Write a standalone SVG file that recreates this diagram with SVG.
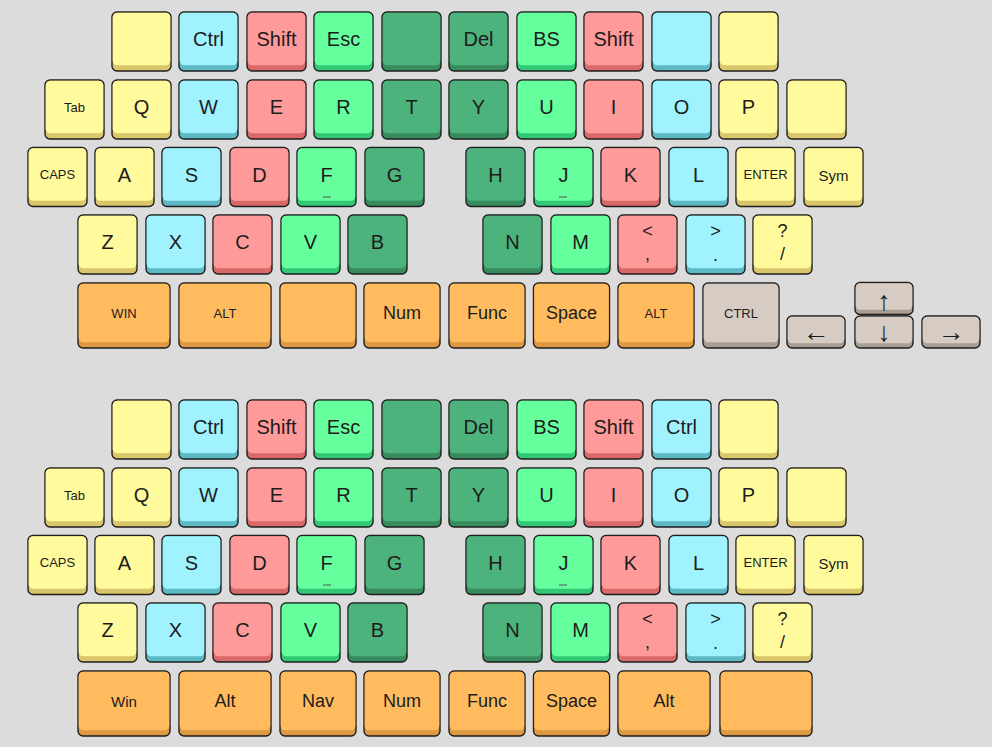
<svg xmlns="http://www.w3.org/2000/svg" width="992" height="747" viewBox="0 0 992 747">
<style>
text{font-family:"Liberation Sans","DejaVu Sans",Arial,sans-serif;fill:#1c1c1c;text-anchor:middle}
.t{font-size:20px}
.s{font-size:13px}
.m{font-size:18px}
.sy{font-size:15px}
.ar{font-size:27px}
.ye{--b:#D9C56A;--f:#FFFA9C}
.cy{--b:#5DB9C3;--f:#A0F2FF}
.rd{--b:#D96868;--f:#FF9A9A}
.lg{--b:#33C876;--f:#66FF9E}
.dg{--b:#378B5C;--f:#4DB37C}
.or{--b:#DC9842;--f:#FFBB5E}
.gr{--b:#A89D93;--f:#D6CCC3}
.hm{stroke:#555;stroke-width:1}
</style>
<rect width="992" height="747" fill="#DCDCDC"/>
<defs>
<g id="k"><rect style="fill:var(--b);stroke:#1e1e1e;stroke-width:1.4" width="59" height="59" rx="5"/><rect style="fill:var(--f)" x="0.7" y="0.7" width="57.6" height="52.5" rx="4.5"/></g>
<g id="w92"><rect style="fill:var(--b);stroke:#1e1e1e;stroke-width:1.4" width="92" height="65" rx="5"/><rect style="fill:var(--f)" x="0.7" y="0.7" width="90.6" height="58.5" rx="4.5"/></g>
<g id="w76"><rect style="fill:var(--b);stroke:#1e1e1e;stroke-width:1.4" width="76" height="65" rx="5"/><rect style="fill:var(--f)" x="0.7" y="0.7" width="74.6" height="58.5" rx="4.5"/></g>
<g id="ak"><rect style="fill:var(--b);stroke:#1e1e1e;stroke-width:1.4" width="58" height="32" rx="5"/><rect style="fill:var(--f)" x="0.7" y="0.7" width="56.6" height="26.5" rx="4.5"/></g>
</defs>

<!-- Keyboard 1 -->
<g id="kb1">
<g id="kb1-r1-1" class="ye" transform="translate(112,12)"><use href="#k"/></g>
<g id="kb1-r1-2" class="cy" transform="translate(179,12)"><use href="#k"/><text class="t" x="29.5" y="34">Ctrl</text></g>
<g id="kb1-r1-3" class="rd" transform="translate(247,12)"><use href="#k"/><text class="t" x="29.5" y="34">Shift</text></g>
<g id="kb1-r1-4" class="lg" transform="translate(314,12)"><use href="#k"/><text class="t" x="29.5" y="34">Esc</text></g>
<g id="kb1-r1-5" class="dg" transform="translate(382,12)"><use href="#k"/></g>
<g id="kb1-r1-6" class="dg" transform="translate(449,12)"><use href="#k"/><text class="t" x="29.5" y="34">Del</text></g>
<g id="kb1-r1-7" class="lg" transform="translate(517,12)"><use href="#k"/><text class="t" x="29.5" y="34">BS</text></g>
<g id="kb1-r1-8" class="rd" transform="translate(584,12)"><use href="#k"/><text class="t" x="29.5" y="34">Shift</text></g>
<g id="kb1-r1-9" class="cy" transform="translate(652,12)"><use href="#k"/></g>
<g id="kb1-r1-10" class="ye" transform="translate(719,12)"><use href="#k"/></g>

<g id="kb1-r2-1" class="ye" transform="translate(45,80)"><use href="#k"/><text class="s" x="29.5" y="32">Tab</text></g>
<g id="kb1-r2-2" class="ye" transform="translate(112,80)"><use href="#k"/><text class="t" x="29.5" y="34">Q</text></g>
<g id="kb1-r2-3" class="cy" transform="translate(179,80)"><use href="#k"/><text class="t" x="29.5" y="34">W</text></g>
<g id="kb1-r2-4" class="rd" transform="translate(247,80)"><use href="#k"/><text class="t" x="29.5" y="34">E</text></g>
<g id="kb1-r2-5" class="lg" transform="translate(314,80)"><use href="#k"/><text class="t" x="29.5" y="34">R</text></g>
<g id="kb1-r2-6" class="dg" transform="translate(382,80)"><use href="#k"/><text class="t" x="29.5" y="34">T</text></g>
<g id="kb1-r2-7" class="dg" transform="translate(449,80)"><use href="#k"/><text class="t" x="29.5" y="34">Y</text></g>
<g id="kb1-r2-8" class="lg" transform="translate(517,80)"><use href="#k"/><text class="t" x="29.5" y="34">U</text></g>
<g id="kb1-r2-9" class="rd" transform="translate(584,80)"><use href="#k"/><text class="t" x="29.5" y="34">I</text></g>
<g id="kb1-r2-10" class="cy" transform="translate(652,80)"><use href="#k"/><text class="t" x="29.5" y="34">O</text></g>
<g id="kb1-r2-11" class="ye" transform="translate(719,80)"><use href="#k"/><text class="t" x="29.5" y="34">P</text></g>
<g id="kb1-r2-12" class="ye" transform="translate(787,80)"><use href="#k"/></g>

<g id="kb1-r3-1" class="ye" transform="translate(28,147.5)"><use href="#k"/><text class="s" x="29.5" y="31.5">CAPS</text></g>
<g id="kb1-r3-2" class="ye" transform="translate(95,147.5)"><use href="#k"/><text class="t" x="29.5" y="34">A</text></g>
<g id="kb1-r3-3" class="cy" transform="translate(162,147.5)"><use href="#k"/><text class="t" x="29.5" y="34">S</text></g>
<g id="kb1-r3-4" class="rd" transform="translate(230,147.5)"><use href="#k"/><text class="t" x="29.5" y="34">D</text></g>
<g id="kb1-r3-5" class="lg" transform="translate(297,147.5)"><use href="#k"/><text class="t" x="29.5" y="34">F</text><line class="hm" x1="26" y1="49.5" x2="34" y2="49.5"/></g>
<g id="kb1-r3-6" class="dg" transform="translate(365,147.5)"><use href="#k"/><text class="t" x="29.5" y="34">G</text></g>
<g id="kb1-r3-7" class="dg" transform="translate(466,147.5)"><use href="#k"/><text class="t" x="29.5" y="34">H</text></g>
<g id="kb1-r3-8" class="lg" transform="translate(534,147.5)"><use href="#k"/><text class="t" x="29.5" y="34">J</text><line class="hm" x1="25" y1="49.5" x2="33" y2="49.5"/></g>
<g id="kb1-r3-9" class="rd" transform="translate(601,147.5)"><use href="#k"/><text class="t" x="29.5" y="34">K</text></g>
<g id="kb1-r3-10" class="cy" transform="translate(669,147.5)"><use href="#k"/><text class="t" x="29.5" y="34">L</text></g>
<g id="kb1-r3-11" class="ye" transform="translate(736,147.5)"><use href="#k"/><text class="s" x="29.5" y="31.5">ENTER</text></g>
<g id="kb1-r3-12" class="ye" transform="translate(804,147.5)"><use href="#k"/><text class="sy" x="29.5" y="33">Sym</text></g>

<g id="kb1-r4-1" class="ye" transform="translate(78,215)"><use href="#k"/><text class="t" x="29.5" y="34">Z</text></g>
<g id="kb1-r4-2" class="cy" transform="translate(146,215)"><use href="#k"/><text class="t" x="29.5" y="34">X</text></g>
<g id="kb1-r4-3" class="rd" transform="translate(213,215)"><use href="#k"/><text class="t" x="29.5" y="34">C</text></g>
<g id="kb1-r4-4" class="lg" transform="translate(281,215)"><use href="#k"/><text class="t" x="29.5" y="34">V</text></g>
<g id="kb1-r4-5" class="dg" transform="translate(348,215)"><use href="#k"/><text class="t" x="29.5" y="34">B</text></g>
<g id="kb1-r4-6" class="dg" transform="translate(483,215)"><use href="#k"/><text class="t" x="29.5" y="34">N</text></g>
<g id="kb1-r4-7" class="lg" transform="translate(551,215)"><use href="#k"/><text class="t" x="29.5" y="34">M</text></g>
<g id="kb1-r4-8" class="rd" transform="translate(618,215)"><use href="#k"/><text class="m" x="29.5" y="22">&lt;</text><text class="m" x="29.5" y="45">,</text></g>
<g id="kb1-r4-9" class="cy" transform="translate(686,215)"><use href="#k"/><text class="m" x="29.5" y="22">&gt;</text><text class="m" x="29.5" y="46">.</text></g>
<g id="kb1-r4-10" class="ye" transform="translate(753,215)"><use href="#k"/><text class="m" x="29.5" y="22">?</text><text class="m" x="29.5" y="45">/</text></g>

<g id="kb1-r5-1" class="or" transform="translate(78,283)"><use href="#w92"/><text class="s" x="46" y="35">WIN</text></g>
<g id="kb1-r5-2" class="or" transform="translate(179,283)"><use href="#w92"/><text class="s" x="46" y="35">ALT</text></g>
<g id="kb1-r5-3" class="or" transform="translate(280,283)"><use href="#w76"/></g>
<g id="kb1-r5-4" class="or" transform="translate(364,283)"><use href="#w76"/><text class="m" x="38" y="36">Num</text></g>
<g id="kb1-r5-5" class="or" transform="translate(449,283)"><use href="#w76"/><text class="m" x="38" y="36">Func</text></g>
<g id="kb1-r5-6" class="or" transform="translate(533.5,283)"><use href="#w76"/><text class="m" x="38" y="36">Space</text></g>
<g id="kb1-r5-7" class="or" transform="translate(618,283)"><use href="#w76"/><text class="s" x="38" y="35">ALT</text></g>
<g id="kb1-r5-8" class="gr" transform="translate(703,283)"><use href="#w76"/><text class="s" x="38" y="35">CTRL</text></g>

<g id="kb1-up" class="gr" transform="translate(855,282.5)"><use href="#ak"/><text class="ar" x="29" y="27">↑</text></g>
<g id="kb1-left" class="gr" transform="translate(787,316)"><use href="#ak"/><text class="ar" x="29" y="25">←</text></g>
<g id="kb1-down" class="gr" transform="translate(855,316)"><use href="#ak"/><text class="ar" x="29" y="24.5">↓</text></g>
<g id="kb1-right" class="gr" transform="translate(922,316)"><use href="#ak"/><text class="ar" x="29" y="25">→</text></g>
</g>

<!-- Keyboard 2 -->
<g id="kb2">
<g id="kb2-r1-1" class="ye" transform="translate(112,400)"><use href="#k"/></g>
<g id="kb2-r1-2" class="cy" transform="translate(179,400)"><use href="#k"/><text class="t" x="29.5" y="34">Ctrl</text></g>
<g id="kb2-r1-3" class="rd" transform="translate(247,400)"><use href="#k"/><text class="t" x="29.5" y="34">Shift</text></g>
<g id="kb2-r1-4" class="lg" transform="translate(314,400)"><use href="#k"/><text class="t" x="29.5" y="34">Esc</text></g>
<g id="kb2-r1-5" class="dg" transform="translate(382,400)"><use href="#k"/></g>
<g id="kb2-r1-6" class="dg" transform="translate(449,400)"><use href="#k"/><text class="t" x="29.5" y="34">Del</text></g>
<g id="kb2-r1-7" class="lg" transform="translate(517,400)"><use href="#k"/><text class="t" x="29.5" y="34">BS</text></g>
<g id="kb2-r1-8" class="rd" transform="translate(584,400)"><use href="#k"/><text class="t" x="29.5" y="34">Shift</text></g>
<g id="kb2-r1-9" class="cy" transform="translate(652,400)"><use href="#k"/><text class="t" x="29.5" y="34">Ctrl</text></g>
<g id="kb2-r1-10" class="ye" transform="translate(719,400)"><use href="#k"/></g>

<g id="kb2-r2-1" class="ye" transform="translate(45,468)"><use href="#k"/><text class="s" x="29.5" y="32">Tab</text></g>
<g id="kb2-r2-2" class="ye" transform="translate(112,468)"><use href="#k"/><text class="t" x="29.5" y="34">Q</text></g>
<g id="kb2-r2-3" class="cy" transform="translate(179,468)"><use href="#k"/><text class="t" x="29.5" y="34">W</text></g>
<g id="kb2-r2-4" class="rd" transform="translate(247,468)"><use href="#k"/><text class="t" x="29.5" y="34">E</text></g>
<g id="kb2-r2-5" class="lg" transform="translate(314,468)"><use href="#k"/><text class="t" x="29.5" y="34">R</text></g>
<g id="kb2-r2-6" class="dg" transform="translate(382,468)"><use href="#k"/><text class="t" x="29.5" y="34">T</text></g>
<g id="kb2-r2-7" class="dg" transform="translate(449,468)"><use href="#k"/><text class="t" x="29.5" y="34">Y</text></g>
<g id="kb2-r2-8" class="lg" transform="translate(517,468)"><use href="#k"/><text class="t" x="29.5" y="34">U</text></g>
<g id="kb2-r2-9" class="rd" transform="translate(584,468)"><use href="#k"/><text class="t" x="29.5" y="34">I</text></g>
<g id="kb2-r2-10" class="cy" transform="translate(652,468)"><use href="#k"/><text class="t" x="29.5" y="34">O</text></g>
<g id="kb2-r2-11" class="ye" transform="translate(719,468)"><use href="#k"/><text class="t" x="29.5" y="34">P</text></g>
<g id="kb2-r2-12" class="ye" transform="translate(787,468)"><use href="#k"/></g>

<g id="kb2-r3-1" class="ye" transform="translate(28,535.5)"><use href="#k"/><text class="s" x="29.5" y="31.5">CAPS</text></g>
<g id="kb2-r3-2" class="ye" transform="translate(95,535.5)"><use href="#k"/><text class="t" x="29.5" y="34">A</text></g>
<g id="kb2-r3-3" class="cy" transform="translate(162,535.5)"><use href="#k"/><text class="t" x="29.5" y="34">S</text></g>
<g id="kb2-r3-4" class="rd" transform="translate(230,535.5)"><use href="#k"/><text class="t" x="29.5" y="34">D</text></g>
<g id="kb2-r3-5" class="lg" transform="translate(297,535.5)"><use href="#k"/><text class="t" x="29.5" y="34">F</text><line class="hm" x1="26" y1="49.5" x2="34" y2="49.5"/></g>
<g id="kb2-r3-6" class="dg" transform="translate(365,535.5)"><use href="#k"/><text class="t" x="29.5" y="34">G</text></g>
<g id="kb2-r3-7" class="dg" transform="translate(466,535.5)"><use href="#k"/><text class="t" x="29.5" y="34">H</text></g>
<g id="kb2-r3-8" class="lg" transform="translate(534,535.5)"><use href="#k"/><text class="t" x="29.5" y="34">J</text><line class="hm" x1="25" y1="49.5" x2="33" y2="49.5"/></g>
<g id="kb2-r3-9" class="rd" transform="translate(601,535.5)"><use href="#k"/><text class="t" x="29.5" y="34">K</text></g>
<g id="kb2-r3-10" class="cy" transform="translate(669,535.5)"><use href="#k"/><text class="t" x="29.5" y="34">L</text></g>
<g id="kb2-r3-11" class="ye" transform="translate(736,535.5)"><use href="#k"/><text class="s" x="29.5" y="31.5">ENTER</text></g>
<g id="kb2-r3-12" class="ye" transform="translate(804,535.5)"><use href="#k"/><text class="sy" x="29.5" y="33">Sym</text></g>

<g id="kb2-r4-1" class="ye" transform="translate(78,603)"><use href="#k"/><text class="t" x="29.5" y="34">Z</text></g>
<g id="kb2-r4-2" class="cy" transform="translate(146,603)"><use href="#k"/><text class="t" x="29.5" y="34">X</text></g>
<g id="kb2-r4-3" class="rd" transform="translate(213,603)"><use href="#k"/><text class="t" x="29.5" y="34">C</text></g>
<g id="kb2-r4-4" class="lg" transform="translate(281,603)"><use href="#k"/><text class="t" x="29.5" y="34">V</text></g>
<g id="kb2-r4-5" class="dg" transform="translate(348,603)"><use href="#k"/><text class="t" x="29.5" y="34">B</text></g>
<g id="kb2-r4-6" class="dg" transform="translate(483,603)"><use href="#k"/><text class="t" x="29.5" y="34">N</text></g>
<g id="kb2-r4-7" class="lg" transform="translate(551,603)"><use href="#k"/><text class="t" x="29.5" y="34">M</text></g>
<g id="kb2-r4-8" class="rd" transform="translate(618,603)"><use href="#k"/><text class="m" x="29.5" y="22">&lt;</text><text class="m" x="29.5" y="45">,</text></g>
<g id="kb2-r4-9" class="cy" transform="translate(686,603)"><use href="#k"/><text class="m" x="29.5" y="22">&gt;</text><text class="m" x="29.5" y="46">.</text></g>
<g id="kb2-r4-10" class="ye" transform="translate(753,603)"><use href="#k"/><text class="m" x="29.5" y="22">?</text><text class="m" x="29.5" y="45">/</text></g>

<g id="kb2-r5-1" class="or" transform="translate(78,671)"><use href="#w92"/><text class="sy" x="46" y="36">Win</text></g>
<g id="kb2-r5-2" class="or" transform="translate(179,671)"><use href="#w92"/><text class="m" x="46" y="36">Alt</text></g>
<g id="kb2-r5-3" class="or" transform="translate(280,671)"><use href="#w76"/><text class="m" x="38" y="36">Nav</text></g>
<g id="kb2-r5-4" class="or" transform="translate(364,671)"><use href="#w76"/><text class="m" x="38" y="36">Num</text></g>
<g id="kb2-r5-5" class="or" transform="translate(449,671)"><use href="#w76"/><text class="m" x="38" y="36">Func</text></g>
<g id="kb2-r5-6" class="or" transform="translate(533.5,671)"><use href="#w76"/><text class="m" x="38" y="36">Space</text></g>
<g id="kb2-r5-7" class="or" transform="translate(618,671)"><use href="#w92"/><text class="m" x="46" y="36">Alt</text></g>
<g id="kb2-r5-8" class="or" transform="translate(720,671)"><use href="#w92"/></g>
</g>
</svg>
